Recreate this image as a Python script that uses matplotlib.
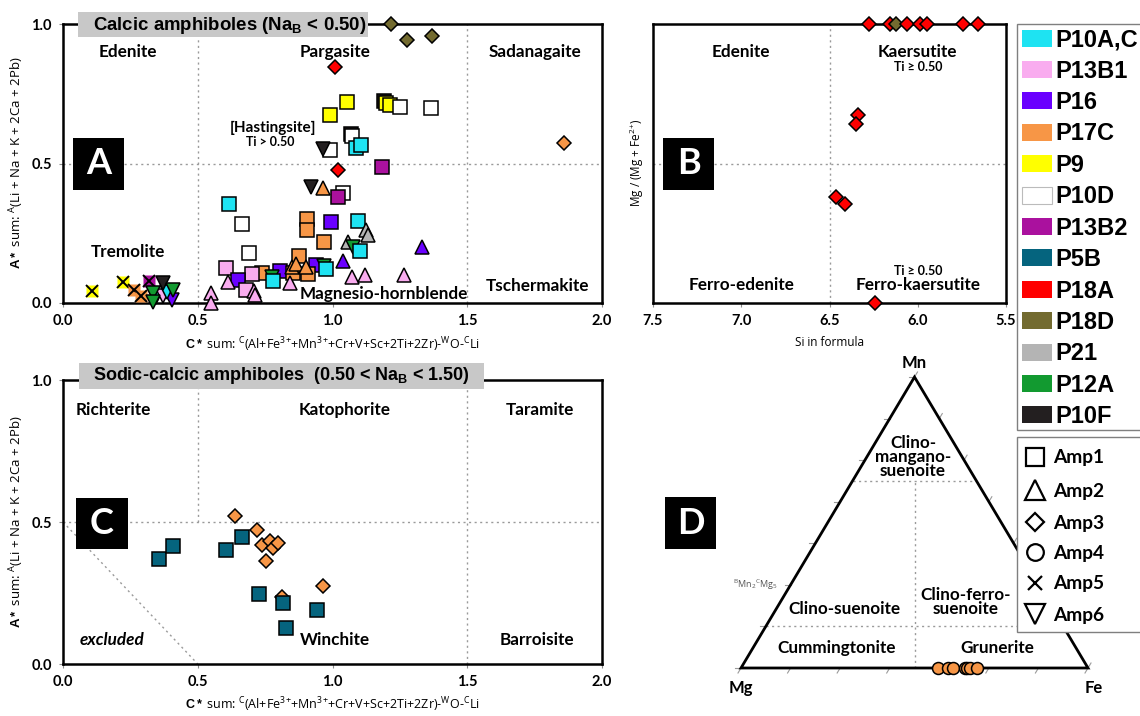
import matplotlib
matplotlib.use('Agg')
import matplotlib.pyplot as plt
from matplotlib.patches import Rectangle, Polygon
from matplotlib.lines import Line2D

W, H, DPI = 1140, 716, 100

plt.rcParams['mathtext.fontset'] = 'custom'
plt.rcParams['mathtext.rm'] = 'Open Sans'
plt.rcParams['mathtext.it'] = 'Open Sans:italic'
plt.rcParams['mathtext.bf'] = 'Liberation Sans:bold'
plt.rcParams['font.family'] = ['Lato', 'DejaVu Sans']

# ---------------- data ----------------
samples = ['P10A,C', 'P13B1', 'P16', 'P17C', 'P9', 'P10D', 'P13B2', 'P5B',
           'P18A', 'P18D', 'P21', 'P12A', 'P10F']
sample_colors = ['#1EE3F2', '#F9ACEF', '#6A00FF', '#F79646', '#FFFF00', '#FFFFFF',
                 '#AA119E', '#05647E', '#FF0000', '#736B30', '#B4B4B4', '#129A30', '#231F20']
amps = ['Amp1', 'Amp2', 'Amp3', 'Amp4', 'Amp5', 'Amp6']
amp_markers = ['s', '^', 'D', 'o', 'X', 'v']

# Panel A: calcic amphiboles (C* sum vs A* sum)
a_sample = ['P10F', 'P10F', 'P9', 'P9', 'P9', 'P9', 'P10D', 'P10D', 'P10D', 'P10A,C',
            'P10A,C', 'P10D', 'P10F', 'P18A', 'P18A', 'P13B2', 'P10D', 'P13B2', 'P10F', 'P17C',
            'P18D', 'P18D', 'P18D', 'P17C', 'P10A,C', 'P10D', 'P10D', 'P17C', 'P17C', 'P16',
            'P10A,C', 'P17C', 'P21', 'P21', 'P21', 'P12A', 'P10A,C', 'P16', 'P16', 'P13B1',
            'P13B1', 'P13B1', 'P17C', 'P16', 'P16', 'P17C', 'P17C', 'P17C', 'P17C', 'P17C',
            'P17C', 'P12A', 'P10A,C', 'P13B1', 'P13B1', 'P16', 'P13B1', 'P13B1', 'P13B1', 'P13B1',
            'P12A', 'P10A,C', 'P13B1', 'P13B1', 'P13B1', 'P9', 'P9', 'P17C', 'P17C', 'P13B2',
            'P10A,C', 'P13B1', 'P16', 'P10A,C', 'P10F', 'P12A', 'P12A', 'P12A']
a_amp = ['Amp1', 'Amp1', 'Amp1', 'Amp1', 'Amp1', 'Amp1', 'Amp1', 'Amp1', 'Amp1', 'Amp1',
         'Amp1', 'Amp1', 'Amp6', 'Amp3', 'Amp3', 'Amp1', 'Amp1', 'Amp1', 'Amp6', 'Amp2',
         'Amp3', 'Amp3', 'Amp3', 'Amp3', 'Amp1', 'Amp1', 'Amp1', 'Amp1', 'Amp1', 'Amp1',
         'Amp1', 'Amp1', 'Amp2', 'Amp2', 'Amp2', 'Amp6', 'Amp1', 'Amp2', 'Amp2', 'Amp2',
         'Amp2', 'Amp2', 'Amp1', 'Amp1', 'Amp1', 'Amp1', 'Amp1', 'Amp1', 'Amp2', 'Amp2',
         'Amp2', 'Amp6', 'Amp1', 'Amp1', 'Amp1', 'Amp1', 'Amp2', 'Amp1', 'Amp2', 'Amp2',
         'Amp6', 'Amp1', 'Amp2', 'Amp2', 'Amp2', 'Amp5', 'Amp5', 'Amp5', 'Amp5', 'Amp5',
         'Amp6', 'Amp6', 'Amp6', 'Amp6', 'Amp6', 'Amp6', 'Amp6', 'Amp6']
a_x = [1.190, 1.068, 0.990, 1.054, 1.197, 1.215, 1.249, 1.367, 1.074, 1.089,
       1.104, 0.990, 0.963, 1.010, 1.020, 1.185, 1.039, 1.021, 0.922, 0.963,
       1.216, 1.278, 1.369, 1.858, 0.617, 0.665, 0.691, 0.906, 0.906, 0.996,
       1.095, 0.969, 1.058, 1.125, 1.130, 1.076, 1.101, 1.040, 1.333, 1.074,
       1.120, 1.264, 0.874, 0.940, 0.804, 0.737, 0.853, 0.908, 0.848, 0.866,
       0.903, 0.968, 0.975, 0.605, 0.700, 0.650, 0.613, 0.678, 0.709, 0.712,
       0.776, 0.780, 0.842, 0.551, 0.551, 0.109, 0.224, 0.265, 0.290, 0.320,
       0.345, 0.370, 0.405, 0.385, 0.370, 0.409, 0.335, 0.335]
a_y = [0.724, 0.604, 0.674, 0.722, 0.718, 0.710, 0.704, 0.700, 0.599, 0.554,
       0.566, 0.548, 0.552, 0.847, 0.477, 0.486, 0.393, 0.379, 0.414, 0.411,
       1.000, 0.943, 0.957, 0.575, 0.354, 0.282, 0.178, 0.301, 0.262, 0.292,
       0.295, 0.220, 0.220, 0.262, 0.245, 0.202, 0.188, 0.150, 0.200, 0.093,
       0.102, 0.100, 0.168, 0.136, 0.115, 0.106, 0.108, 0.104, 0.130, 0.140,
       0.130, 0.133, 0.121, 0.124, 0.104, 0.081, 0.074, 0.047, 0.043, 0.028,
       0.094, 0.078, 0.070, 0.035, 0.000, 0.044, 0.076, 0.045, 0.025, 0.080,
       0.020, 0.025, 0.012, 0.040, 0.070, 0.047, 0.035, 0.005]

# Panel B: Si in formula vs Mg/(Mg+Fe2+)
b_sample = ['P18A', 'P18A', 'P18D', 'P18A', 'P18A', 'P18A', 'P18A', 'P18A',
            'P18A', 'P18A', 'P18A', 'P18A', 'P18A']
b_amp = ['Amp3'] * 13
b_si = [6.276, 6.157, 6.123, 6.061, 5.987, 5.948, 5.744, 5.659,
        6.339, 6.350, 6.463, 6.410, 6.240]
b_mg = [1.000, 1.000, 1.000, 1.000, 1.000, 1.000, 1.000, 1.000,
        0.674, 0.640, 0.380, 0.355, 0.000]

# Panel C: sodic-calcic amphiboles
c_sample = ['P17C'] * 9 + ['P5B'] * 8
c_amp = ['Amp3'] * 9 + ['Amp1'] * 8
c_x = [0.640, 0.718, 0.740, 0.767, 0.780, 0.798, 0.755, 0.811, 0.965,
       0.356, 0.409, 0.603, 0.665, 0.727, 0.817, 0.826, 0.944]
c_y = [0.521, 0.472, 0.419, 0.433, 0.410, 0.425, 0.364, 0.237, 0.276,
       0.370, 0.417, 0.401, 0.448, 0.245, 0.216, 0.128, 0.190]

# Panel D: Mg-Fe-Mn ternary (fractions)
d_sample = ['P17C'] * 7
d_amp = ['Amp4'] * 7
d_fe = [0.569, 0.597, 0.612, 0.646, 0.651, 0.660, 0.679]
d_mn = [0.0, 0.0, 0.0, 0.0, 0.0, 0.0, 0.0]

# ---------------- figure ----------------
fig = plt.figure(figsize=(W / DPI, H / DPI), dpi=DPI)
fig.patch.set_facecolor('white')


def fx(px):
    return px / W


def fy(py):
    return 1 - py / H


def add_ax(x0, y0, x1, y1):
    return fig.add_axes([x0 / W, 1 - y1 / H, (x1 - x0) / W, (y1 - y0) / H])


color_of = dict(zip(samples, sample_colors))
marker_of = dict(zip(amps, amp_markers))
MS = {'s': 9.5, '^': 10, 'v': 10, 'D': 7.2, 'o': 8.6}
GRID = dict(color='#9A9A9A', lw=1.0, ls=(0, (1.5, 2.5)), zorder=1)
LAB = 'Lato'
FS_FIELD = 12.3


def draw_points(ax, ss, aa, xs, ys):
    for s, a, x, y in zip(ss, aa, xs, ys):
        c = color_of[s]
        m = marker_of[a]
        if m == 'X':
            ax.plot(x, y, marker='s', ms=8.5, mfc=c, mec='none', ls='none',
                    clip_on=False, zorder=4)
            ax.plot(x, y, marker='x', ms=8.5, mec='black', mew=1.4, ls='none',
                    clip_on=False, zorder=4)
        else:
            ax.plot(x, y, marker=m, ms=MS[m], mfc=c, mec='black', mew=1.1,
                    ls='none', clip_on=False, zorder=4)


def style(ax, xt, yt, xl, yl):
    for s in ax.spines.values():
        s.set_linewidth(1.8)
        s.set_color('black')
    ax.set_xticks(xt)
    ax.set_xticklabels(xl)
    ax.set_yticks(yt)
    ax.set_yticklabels(yl)
    ax.tick_params(direction='out', length=3, width=0.8, color='#8C8C8C',
                   pad=5, labelsize=10.5)
    for lab in ax.get_xticklabels() + ax.get_yticklabels():
        lab.set_fontweight('bold')
        lab.set_family(LAB)


def field(ax, x, y, s, **kw):
    d = dict(ha='center', va='center', fontsize=FS_FIELD, fontweight='bold',
             family=LAB, zorder=3)
    d.update(kw)
    ax.text(x, y, s, **d)


# ---- Panel A ----
axA = add_ax(63, 24, 602, 303)
axA.set_xlim(0, 2)
axA.set_ylim(0, 1)
style(axA, [0, 0.5, 1, 1.5, 2], [0, 0.5, 1],
      ['0.0', '0.5', '1.0', '1.5', '2.0'], ['0.0', '0.5', '1.0'])
axA.axhline(0.5, **GRID)
axA.axvline(0.5, **GRID)
axA.axvline(1.5, **GRID)
field(axA, 0.24, 0.90, 'Edenite')
field(axA, 1.01, 0.90, 'Pargasite')
field(axA, 1.75, 0.90, 'Sadanagaite')
field(axA, 0.24, 0.183, 'Tremolite')
field(axA, 1.19, 0.034, 'Magnesio-hornblende')
field(axA, 1.76, 0.062, 'Tschermakite')
field(axA, 0.78, 0.627, '[Hastingsite]', fontsize=11)
field(axA, 0.77, 0.577, 'Ti > 0.50', fontsize=9)
draw_points(axA, a_sample, a_amp, a_x, a_y)

# ---- Panel B ----
axB = add_ax(653, 24, 1006, 303)
axB.set_xlim(7.5, 5.5)
axB.set_ylim(0, 1)
style(axB, [7.5, 7.0, 6.5, 6.0, 5.5], [],
      ['7.5', '7.0', '6.5', '6.0', '5.5'], [])
axB.axhline(0.5, **GRID)
axB.axvline(6.5, **GRID)
field(axB, 7.0, 0.90, 'Edenite')
field(axB, 6.0, 0.90, 'Kaersutite')
field(axB, 6.0, 0.845, 'Ti ≥ 0.50', fontsize=9)
field(axB, 7.0, 0.066, 'Ferro-edenite')
field(axB, 6.0, 0.066, 'Ferro-kaersutite')
field(axB, 6.0, 0.113, 'Ti ≥ 0.50', fontsize=9)
draw_points(axB, b_sample, b_amp, b_si, b_mg)

# ---- Panel C ----
axC = add_ax(63, 380, 602, 664)
axC.set_xlim(0, 2)
axC.set_ylim(0, 1)
style(axC, [0, 0.5, 1, 1.5, 2], [0, 0.5, 1],
      ['0.0', '0.5', '1.0', '1.5', '2.0'], ['0.0', '0.5', '1.0'])
axC.axhline(0.5, **GRID)
axC.plot([0.5, 0.5], [0.5, 1.0], **GRID)
axC.axvline(1.5, **GRID)
axC.plot([0.0, 0.5], [0.5, 0.0], **GRID)
field(axC, 0.187, 0.894, 'Richterite')
field(axC, 1.045, 0.894, 'Katophorite')
field(axC, 1.768, 0.894, 'Taramite')
field(axC, 1.757, 0.085, 'Barroisite')
field(axC, 1.008, 0.085, 'Winchite')
field(axC, 0.181, 0.085, 'excluded', fontstyle='italic')
draw_points(axC, c_sample, c_amp, c_x, c_y)

# ---- Panel D (ternary) ----
axD = add_ax(741, 377, 1088, 668)
axD.set_xlim(0, 1)
axD.set_ylim(0, 1)
axD.axis('off')
axD.add_patch(Polygon([(0, 0), (1, 0), (0.5, 1)], closed=True, fill=False,
                      lw=2.0, ec='black', zorder=3, clip_on=False))
pxx, pxy = 1 / 347, 1 / 291
for k in range(0, 8):
    t = k / 7
    axD.plot([t, t - 3 * pxx], [0, -5 * pxy], color='#9A9A9A', lw=0.8, clip_on=False)
    axD.plot([t / 2, t / 2 - 6 * pxx], [t, t], color='#9A9A9A', lw=0.8, clip_on=False)
    axD.plot([1 - t / 2, 1 - t / 2 + 3 * pxx], [t, t + 5 * pxy], color='#9A9A9A',
             lw=0.8, clip_on=False)
y1, y2 = 1 / 7, 4.5 / 7
axD.plot([y1 / 2, 1 - y1 / 2], [y1, y1], **GRID)
axD.plot([y2 / 2, 1 - y2 / 2], [y2, y2], **GRID)
axD.plot([0.5, 0.5], [0, y2], **GRID)
field(axD, 0.496, 0.725, 'Clino-\nmangano-\nsuenoite', fontsize=12.3, linespacing=0.85)
field(axD, 0.297, 0.203, 'Clino-suenoite', fontsize=12.3)
field(axD, 0.646, 0.227, 'Clino-ferro-\nsuenoite', fontsize=12.3, linespacing=0.85)
field(axD, 0.277, 0.069, 'Cummingtonite', fontsize=12.3)
field(axD, 0.738, 0.069, 'Grunerite', fontsize=12.3)
axD.text(0.105, 0.285, r'$^\mathregular{B}$Mn$_\mathregular{2}$$^\mathregular{C}$Mg$_\mathregular{5}$',
         ha='right', va='center', fontsize=6.5, color='#555555', family='Open Sans')
field(axD, 0.5, 1.048, 'Mn', fontsize=12)
field(axD, 0.0, -0.069, 'Mg', fontsize=12)
field(axD, 1.017, -0.069, 'Fe', fontsize=12)
d_x = [f + m / 2 for f, m in zip(d_fe, d_mn)]
draw_points(axD, d_sample, d_amp, d_x, d_mn)

# ---- axis labels ----
SUP = lambda s: r'$^\mathregular{' + s + '}$'
xl = (r'$\mathbf{C*}$ sum: ' + SUP('C') + '(Al+Fe' + SUP('3') + SUP('+') + '+Mn'
      + SUP('3') + SUP('+') + '+Cr+V+Sc+2Ti+2Zr)-' + SUP('W') + 'O-' + SUP('C') + 'Li')
yl = r'$\mathbf{A*}$ sum: ' + SUP('A') + '(Li + Na + K + 2Ca + 2Pb)'
fig.text(fx(332), fy(345), xl, ha='center', va='center', fontsize=9, family='Open Sans')
fig.text(fx(332), fy(705), xl, ha='center', va='center', fontsize=9, family='Open Sans')
fig.text(fx(17), fy(163), yl, ha='center', va='center', rotation=90, fontsize=9.5,
         family='Open Sans')
fig.text(fx(17), fy(522), yl, ha='center', va='center', rotation=90, fontsize=9.5,
         family='Open Sans')
fig.text(fx(830), fy(343), 'Si in formula', ha='center', va='center', fontsize=8.5,
         family='Open Sans')
fig.text(fx(637), fy(163), 'Mg / (Mg + Fe' + SUP('2') + SUP('+') + ')', ha='center',
         va='center', rotation=90, fontsize=8.5, family='Open Sans')


# ---- title boxes ----
def fig_rect(x0, y0, x1, y1, **kw):
    r = Rectangle((fx(x0), fy(y1)), (x1 - x0) / W, (y1 - y0) / H,
                  transform=fig.transFigure, **kw)
    fig.add_artist(r)
    return r


fig_rect(78, 12, 368, 37, facecolor='#C8C8C8', edgecolor='none', zorder=5)
fig.text(fx(93), fy(25), r'Calcic amphiboles (Na$_\mathbf{B}$ < 0.50)', ha='left',
         va='center', fontsize=13.4, family='Liberation Sans', fontweight='bold', zorder=6)
fig_rect(79, 363, 484, 389, facecolor='#C8C8C8', edgecolor='none', zorder=5)
fig.text(fx(93), fy(376), r'Sodic-calcic amphiboles  (0.50 < Na$_\mathbf{B}$ < 1.50)',
         ha='left', va='center', fontsize=13, family='Liberation Sans', fontweight='bold',
         zorder=6)

# ---- panel letters ----
for (x0, y0, x1, y1, ch) in [(73, 138, 124, 190, 'A'), (663, 138, 714, 190, 'B'),
                             (76, 498, 128, 549, 'C'), (665, 497, 716, 549, 'D')]:
    fig_rect(x0, y0, x1, y1, facecolor='black', edgecolor='none', zorder=5)
    fig.text(fx((x0 + x1) / 2), fy((y0 + y1) / 2), ch, ha='center', va='center',
             color='white', fontsize=26, fontweight='bold', family=LAB, zorder=6)

# ---- legend: samples ----
fig_rect(1017, 24, 1150, 430, facecolor='white', edgecolor='#7F7F7F', lw=1.0, zorder=5)
for i, (s, c) in enumerate(zip(samples, sample_colors)):
    yc = 38 + 31.4 * i
    fig_rect(1022, yc - 8.5, 1052, yc + 8.5, facecolor=c,
             edgecolor='#BBBBBB' if c == '#FFFFFF' else 'none', lw=0.8, zorder=6)
    fig.text(fx(1055), fy(yc + 8.3), s, ha='left', va='baseline', fontsize=17,
             family='Liberation Sans', fontweight='bold', zorder=6)

# ---- legend: amphibole types ----
fig_rect(1017, 437, 1150, 632, facecolor='white', edgecolor='#7F7F7F', lw=1.0, zorder=5)
leg_ms = {'s': 13, '^': 15, 'D': 9.3, 'o': 12, 'X': 10.5, 'v': 15}
for i, (a, m) in enumerate(zip(amps, amp_markers)):
    yc = [457, 490, 522, 552, 583, 614][i]
    mk = 'x' if m == 'X' else m
    fig.add_artist(Line2D([fx(1035)], [fy(yc)], transform=fig.transFigure, marker=mk,
                          ms=leg_ms[m], mfc='white', mec='black', mew=1.6, ls='none',
                          zorder=6))
    fig.text(fx(1053), fy(yc + 6.5), a, ha='left', va='baseline', fontsize=13.8,
             family=LAB, fontweight='bold', zorder=6)

fig.savefig('out.png', dpi=DPI, facecolor='white')
